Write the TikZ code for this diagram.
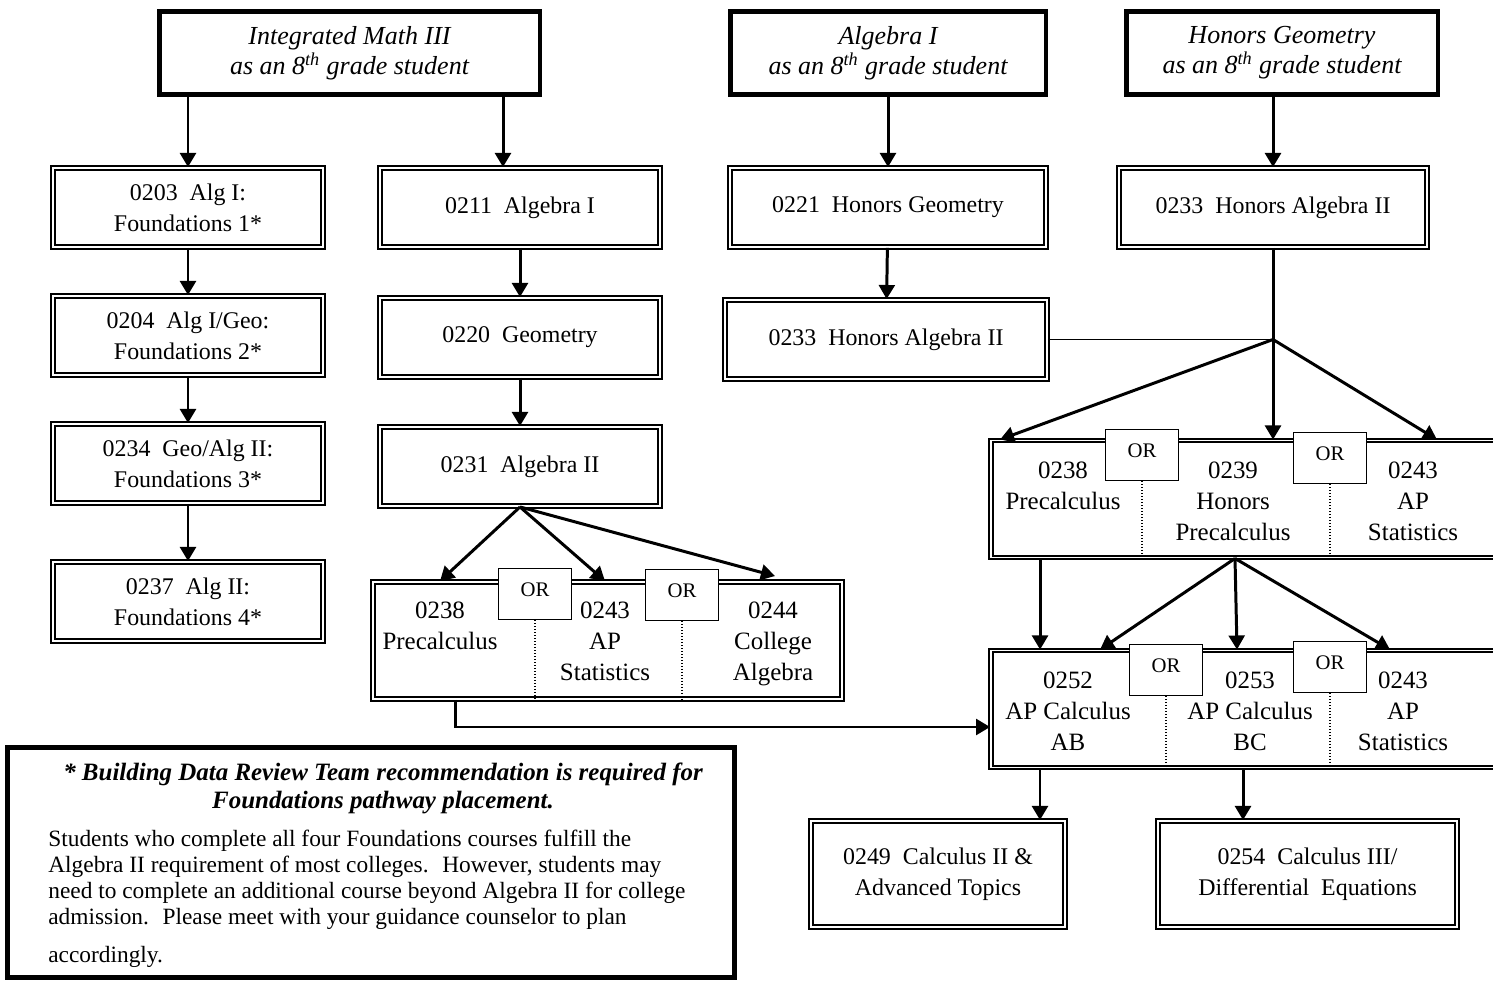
\documentclass[tikz,border=0pt]{standalone}
\usepackage{fontspec}
\setmainfont{Liberation Serif}
\usetikzlibrary{arrows.meta}

\newcommand\topfont{\fontsize{14.8}{17}\selectfont\itshape}
\newcommand\coursefont{\fontsize{13.6}{17.5}\selectfont}
\newcommand\choicefont{\fontsize{14.2}{17.6}\selectfont}
\newcommand\orfont{\fontsize{11.8}{13}\selectfont}
\newcommand\notefont{\fontsize{13.3}{14.7}\selectfont}
\newcommand\headfont{\fontsize{14.2}{16}\selectfont\bfseries\itshape}

\begin{document}
\begin{tikzpicture}[x = 0.02cm, y = -0.02cm,
    topbox/.style = {draw = black, line width = 2.8pt, align = center, font = \topfont, minimum height = 1.66cm, inner sep = 0pt},
    course/.style = {draw = black, double = white, double distance = 1.1pt, line width = 1.1pt, align = center, font = \coursefont, inner sep = 0pt, minimum height = 1.58cm},
    group/.style = {draw = black, double = white, double distance = 1.1pt, line width = 1.1pt, minimum height = 2.34cm, inner sep = 0pt},
    choice/.style = {align = center, font = \choicefont, anchor = north, inner sep = 0pt},
    orbox/.style = {draw = black, fill = white, line width = 0.8pt, font = \orfont, minimum width = 1.46cm, minimum height = 1.02cm, inner sep = 0pt},
    divider/.style = {densely dotted, line width = 0.7pt},
    arr/.style = {-{Triangle[width = 9pt, length = 8pt]}, line width = 1.7pt},
    link/.style = {line width = 0.9pt}]
    \useasboundingbox (0, 0) rectangle (1493, 983);

    % starting points
    \node[topbox, minimum width = 7.62cm] (top1) at (349.5, 53) {Integrated Math III\\ as an 8\textsuperscript{th} grade student};
    \node[topbox, minimum width = 6.32cm] (top2) at (888, 53) {Algebra I\\ as an 8\textsuperscript{th} grade student};
    \node[topbox, minimum width = 6.24cm] (top3) at (1282, 53) {Honors Geometry\\ as an 8\textsuperscript{th} grade student};

    % foundations column
    \node[course, minimum width = 5.4cm] (f1) at (188, 207.5) {0203~ Alg I:\\ Foundations 1*};
    \node[course, minimum width = 5.4cm] (f2) at (188, 335.5) {0204~ Alg I/Geo:\\ Foundations 2*};
    \node[course, minimum width = 5.4cm] (f3) at (188, 463.5) {0234~ Geo/Alg II:\\ Foundations 3*};
    \node[course, minimum width = 5.4cm] (f4) at (188, 601.5) {0237~ Alg II:\\ Foundations 4*};

    % regular column
    \node[course, minimum width = 5.6cm] (r1) at (520, 207.5) {0211~ Algebra I};
    \node[course, minimum width = 5.6cm] (r2) at (520, 337.5) {0220~ Geometry};
    \node[course, minimum width = 5.6cm] (r3) at (520, 466.5) {0231~ Algebra II};

    % honors columns
    \node[course, minimum width = 6.32cm] (h1) at (888, 207.5) {0221~ Honors Geometry};
    \node[course, minimum width = 6.44cm] (h2) at (886, 339.5) {0233~ Honors Algebra II};
    \node[course, minimum width = 6.16cm] (h3) at (1273, 207.5) {0233~ Honors Algebra II};
    \coordinate (hub) at (h3.south |- h2.east);

    % choices after Algebra II
    \node[group, minimum width = 9.38cm] (gA) at (607.5, 640.5) {};
    \node[choice] (a1) at (440, 602) {0238\\ Precalculus};
    \node[choice] (a2) at (605, 602) {0243\\ AP\\ Statistics};
    \node[choice] (a3) at (773, 602) {0244\\ College\\ Algebra};
    \node[orbox] (or1) at (535, 594) {\raisebox{5pt}{OR}};
    \node[orbox] (or2) at (682, 595) {\raisebox{5pt}{OR}};
    \draw[divider] (or1.south) -- (or1.south |- gA.south);
    \draw[divider] (or2.south) -- (or2.south |- gA.south);

    % choices after Honors Algebra II
    \node[group, minimum width = 10.32cm] (gB) at (1249, 499) {};
    \node[choice] (b1) at (1063, 462) {0238\\ Precalculus};
    \node[choice] (b2) at (1233, 462) {0239\\ Honors\\ Precalculus};
    \node[choice] (b3) at (1413, 462) {0243\\ AP\\ Statistics};
    \node[orbox] (or3) at (1142, 455) {\raisebox{5pt}{OR}};
    \node[orbox] (or4) at (1330, 458) {\raisebox{5pt}{OR}};
    \draw[divider] (or3.south) -- (or3.south |- gB.south);
    \draw[divider] (or4.south) -- (or4.south |- gB.south);

    % AP level
    \node[group, minimum width = 10.26cm] (gC) at (1247.5, 709) {};
    \node[choice] (c1) at (1068, 672) {0252\\ AP Calculus\\ AB};
    \node[choice] (c2) at (1250, 672) {0253\\ AP Calculus\\ BC};
    \node[choice] (c3) at (1403, 672) {0243\\ AP\\ Statistics};
    \node[orbox] (or5) at (1166, 670) {\raisebox{5pt}{OR}};
    \node[orbox] (or6) at (1330, 667) {\raisebox{5pt}{OR}};
    \draw[divider] (or5.south) -- (or5.south |- gC.south);
    \draw[divider] (or6.south) -- (or6.south |- gC.south);

    % beyond AP
    \node[course, minimum width = 5.08cm, minimum height = 2.12cm] (e1) at (938, 874) {0249~ Calculus II \&\\ Advanced Topics};
    \node[course, minimum width = 5.98cm, minimum height = 2.12cm] (e2) at (1307.5, 874) {0254~ Calculus III/\\ Differential~ Equations};

    % note
    \node[draw = black, line width = 2.8pt, minimum width = 14.54cm, minimum height = 4.6cm] (note) at (371, 862.5) {};
    \node[font = \headfont, align = center, inner sep = 0pt] (head) at (383, 788) {* Building Data Review Team recommendation is required for\\ Foundations pathway placement.};
    \node[font = \notefont, align = left, anchor = north west, inner sep = 0pt] (body) at (48, 830) {Students who complete all four Foundations courses fulfill the\\ Algebra II requirement of most colleges.~ However, students may\\ need to complete an additional course beyond Algebra II for college\\ admission.~ Please meet with your guidance counselor to plan\\[7pt] accordingly.};

    % arrows
    \draw[arr] (f1.north |- top1.south) -- (f1.north);
    \draw[arr] ([xshift = -0.34cm]r1.north |- top1.south) -- ([xshift = -0.34cm]r1.north);
    \draw[arr] (f1) -- (f2);
    \draw[arr] (f2) -- (f3);
    \draw[arr] (f3) -- (f4);
    \draw[arr] (r1) -- (r2);
    \draw[arr] (r2) -- (r3);
    \draw[arr] (r3.south) -- ([xshift = -3.35cm]gA.north);
    \draw[arr] (r3.south) -- ([xshift = -0.05cm]gA.north);
    \draw[arr] (r3.south) -- ([xshift = 3.35cm, yshift = 0.1cm]gA.north);
    \draw[arr] ([xshift = -3.05cm]gA.south) |- ([yshift = -0.36cm]gC.west);

    \draw[arr] (h1.north |- top2.south) -- (h1.north);
    \draw[arr] (h3.north |- top3.south) -- (h3.north);
    \draw[arr] (h1) -- (h2);
    \draw[link] (h2.east) -- (hub);
    \draw[line width = 1.7pt] (h3.south) -- (hub);
    \draw[arr] (hub) -- ([xshift = -4.98cm]gB.north);
    \draw[arr] (hub) -- (hub |- gB.north);
    \draw[arr] (hub) -- ([xshift = 3.76cm]gB.north);

    \draw[arr] ([xshift = -4.18cm]gB.south) -- ([xshift = -4.18cm]gB.south |- gC.north);
    \draw[arr] ([xshift = -0.28cm]gB.south) -- ([xshift = -2.95cm]gC.north);
    \draw[arr] ([xshift = -0.28cm]gB.south) -- ([xshift = -0.21cm]gC.north);
    \draw[arr] ([xshift = -0.28cm]gB.south) -- ([xshift = 2.85cm]gC.north);

    \draw[arr] ([xshift = 2.04cm]e1.north |- gC.south) -- ([xshift = 2.04cm]e1.north);
    \draw[arr] ([xshift = -1.29cm]e2.north |- gC.south) -- ([xshift = -1.29cm]e2.north);
\end{tikzpicture}
\end{document}
